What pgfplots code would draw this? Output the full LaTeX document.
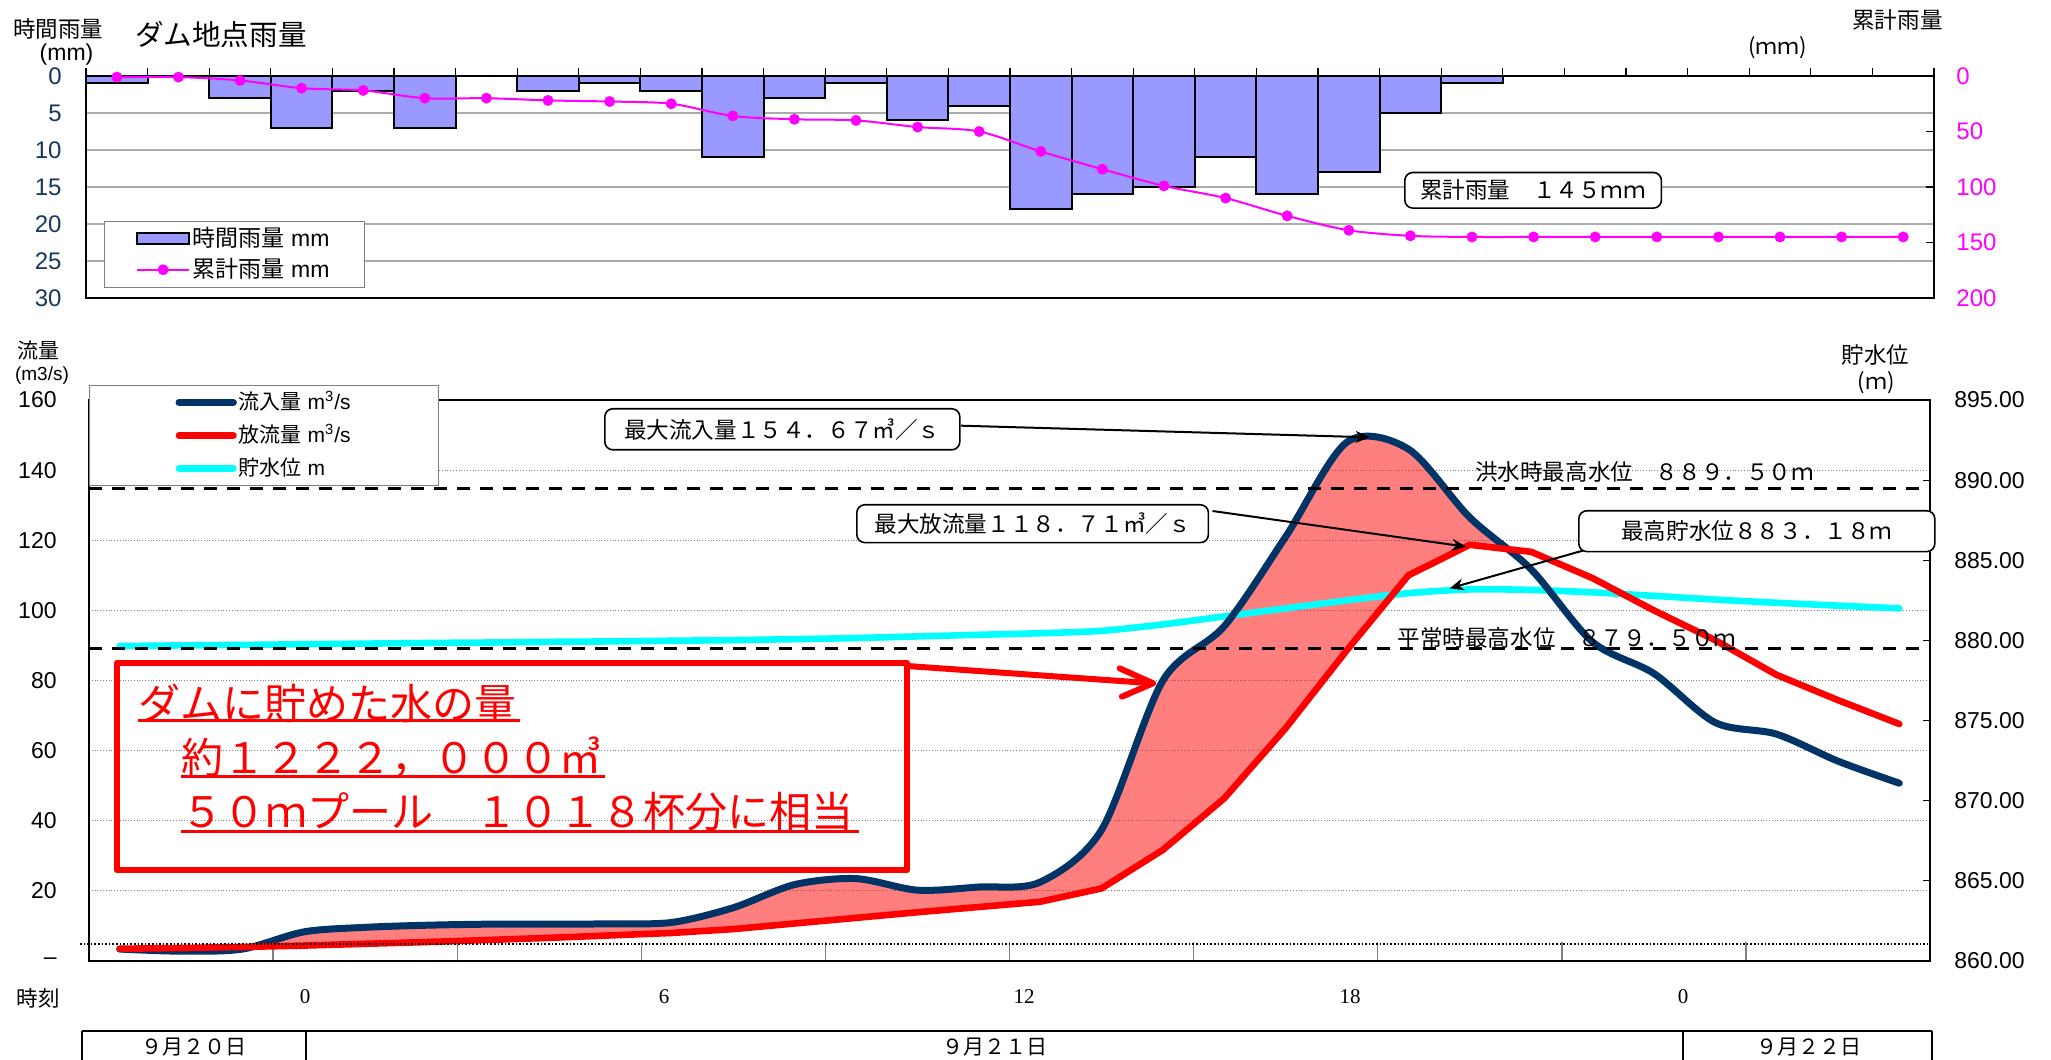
\documentclass[border=0pt]{standalone}
\usepackage{fontspec}
\setmainfont{Liberation Sans}
\newfontfamily\jp{Noto Sans CJK JP}
\newfontfamily\mincho{Liberation Serif}
\usepackage{pgfplots}
\usepackage{pgfplotstable}
\pgfplotsset{compat=1.18}
\usepgfplotslibrary{fillbetween}
\usetikzlibrary{arrows.meta}

\definecolor{barblue}{HTML}{9999FF}
\definecolor{tickblue}{HTML}{17375E}
\definecolor{inflowc}{HTML}{003366}
\definecolor{pinkline}{HTML}{FF00FF}
\definecolor{levelc}{HTML}{00FFFF}
\definecolor{outflowc}{HTML}{FF0000}

% hourly rain and cumulative rain (mm)
\pgfplotstableread{
i rain cum
0 1 1
1 0 1
2 3 4
3 7 11
4 2 13
5 7 20
6 0 20
7 2 22
8 1 23
9 2 25
10 11 36
11 3 39
12 1 40
13 6 46
14 4 50
15 18 68
16 16 84
17 15 99
18 11 110
19 16 126
20 13 139
21 5 144
22 1 145
23 0 145
24 0 145
25 0 145
26 0 145
27 0 145
28 0 145
29 0 145
}\raintable

% inflow, outflow (m3/s) and reservoir level (m)
\pgfplotstableread{
i inflow outflow level
0 3.4 3.5 879.65
1 2.8 3.7 879.69
2 3.4 4.0 879.72
3 8.3 4.4 879.76
4 9.6 4.9 879.80
5 10.2 5.4 879.84
6 10.5 6.0 879.87
7 10.5 6.6 879.91
8 10.6 7.3 879.94
9 11.0 8.0 879.98
10 15.2 9.1 880.02
11 21.8 10.7 880.08
12 23.5 12.3 880.15
13 20.2 13.9 880.25
14 21.1 15.4 880.35
15 22.5 16.9 880.45
16 37.4 20.7 880.60
17 80.0 31.7 881.00
18 95.5 46.4 881.50
19 121.0 66.4 882.00
20 148.0 88.7 882.50
21 146.0 110.0 882.95
22 126.5 118.7 883.18
23 111.7 116.7 883.15
24 91.0 109.2 883.00
25 82.0 100.0 882.78
26 68.0 91.5 882.55
27 64.7 81.6 882.35
28 57.0 74.4 882.17
29 50.7 67.6 882.00
}\damtable

\begin{document}
\begin{tikzpicture}

% ================= rainfall chart =================
\begin{axis}[
  at={(43pt,381pt)}, anchor=south west,
  width=924pt, height=111pt, scale only axis,
  xmin=-0.5, xmax=29.5, ymin=0, ymax=30, y dir=reverse,
  axis line style={line width=1.3pt},
  xtick=\empty,
  ytick={0,5,...,30}, ytick pos=left, ytick style={draw=none},
  yticklabel style={tickblue, font=\fontsize{12}{12}\selectfont, anchor=east, inner sep=0pt, xshift=-12pt},
  ymajorgrids, major grid style={gray!65, line width=0.8pt},
  /pgf/number format/assume math mode=true,
]
\addplot[ybar, bar width=1, bar shift=0pt, fill=barblue, draw=black, line width=1pt]
  table[x=i, y=rain] {\raintable};
\end{axis}

\begin{axis}[
  at={(43pt,381pt)}, anchor=south west,
  width=924pt, height=111pt, scale only axis,
  xmin=-0.5, xmax=29.5, ymin=0, ymax=200, y dir=reverse,
  axis x line=none, axis y line*=right, y axis line style={draw=none},
  ytick={0,50,...,200}, tick align=inside, major tick length=4pt,
  ytick style={black, line width=0.6pt},
  yticklabel style={pinkline, font=\fontsize{12}{12}\selectfont, anchor=west, inner sep=0pt, xshift=11pt},
  /pgf/number format/assume math mode=true,
  legend style={at={(0.0097,0.348)}, anchor=north west, draw=gray, line width=0.5pt,
    fill=white, inner xsep=16pt, inner ysep=2pt, font=\fontsize{11.5}{12}\selectfont,
    nodes={inner xsep=1.5pt, inner ysep=0pt, text height=10.5pt, text depth=3pt}, row sep=2pt},
  legend cell align=left,
  legend image code/.code={\draw[mark repeat=2,mark phase=2,#1] plot coordinates {(0pt,0pt) (12.85pt,0pt) (25.7pt,0pt)};},
]
\addlegendimage{legend image code/.code={\draw[fill=barblue,draw=black,line width=1pt] (0pt,-2.75pt) rectangle (25.7pt,2.75pt);}}
\addlegendentry{{\jp 時間雨量} mm}
\addplot[pinkline, line width=1pt, smooth, mark=*, mark size=2.2pt, mark options={fill=pinkline, draw=pinkline}]
  table[x=i, y=cum] {\raintable};
\addlegendentry{{\jp 累計雨量} mm}
\end{axis}

% ================= flow / level chart =================
\begin{axis}[
  at={(44.5pt,49.5pt)}, anchor=south west,
  width=920.5pt, height=280.5pt, scale only axis,
  xmin=-0.5, xmax=29.5, ymin=860, ymax=895,
  axis x line=none, axis y line*=right, y axis line style={draw=none},
  ytick={860,865,...,895}, tick align=inside, major tick length=3.3pt,
  ytick style={black, line width=0.6pt},
  /pgf/number format/assume math mode=true,
  yticklabel style={font=\fontsize{11.5}{12}\selectfont, anchor=west, inner sep=0pt, xshift=12pt,
    /pgf/number format/.cd, fixed, fixed zerofill, precision=2, 1000 sep={}},
]
\addplot[levelc, line width=3.3pt, smooth, line cap=round] table[x=i, y=level] {\damtable};
\end{axis}

\begin{axis}[
  at={(44.5pt,49.5pt)}, anchor=south west,
  width=920.5pt, height=280.5pt, scale only axis,
  xmin=-0.5, xmax=29.5, ymin=0, ymax=160,
  axis line style={line width=1.3pt},
  xtick={2.5,5.5,...,26.5}, xticklabels={}, xtick pos=left,
  tick align=inside, major tick length=9.5pt,
  xtick style={gray, line width=0.7pt},
  ytick={0,20,...,160}, ytick pos=left, ytick style={draw=none},
  yticklabel={\ifdim\tick pt<1pt \textendash\else\pgfmathprintnumber{\tick}\fi},
  yticklabel style={font=\fontsize{11.5}{12}\selectfont, anchor=east, inner sep=0pt, xshift=-16pt},
  /pgf/number format/assume math mode=true,
  ymajorgrids, major grid style={densely dotted, gray, line width=0.6pt},
  legend style={at={(0,1.0267)}, anchor=north west, draw=gray, line width=0.5pt,
    fill=white, inner xsep=43pt, inner ysep=2pt, font=\fontsize{10.5}{11}\selectfont,
    nodes={inner xsep=1pt, inner ysep=0pt, text height=10pt, text depth=3pt}, row sep=3.5pt},
  legend cell align=left,
  legend image code/.code={\draw[#1, line cap=round] (0pt,0pt) -- (27.2pt,0pt);},
]
\addplot[inflowc, line width=3.5pt, smooth, line cap=round, name path=inflowpath]
  table[x=i, y=inflow] {\damtable};
\addlegendentry{{\jp 流入量} m\textsuperscript{3}/s}
\addplot[outflowc, line width=3.3pt, line cap=round, line join=round, name path=outflowpath]
  table[x=i, y=outflow] {\damtable};
\addlegendentry{{\jp 放流量} m\textsuperscript{3}/s}
\addlegendimage{levelc, line width=3.3pt}
\addlegendentry{{\jp 貯水位} m}
\addplot[fill=outflowc, fill opacity=0.5, draw=none, forget plot]
  fill between[of=inflowpath and outflowpath, soft clip={domain=2.2:22.45}];
% flood and normal maximum levels (889.50 m, 879.50 m in flow units)
\draw[black, line width=1.5pt, dash pattern=on 6.5pt off 5pt] (axis cs:-0.5,134.857) -- (axis cs:29.5,134.857);
\draw[black, line width=1.5pt, dash pattern=on 6.5pt off 5pt] (axis cs:-0.5,89.143) -- (axis cs:29.5,89.143);
\end{axis}

% ================= annotations (pixel coordinates of the reference) =================
\begin{scope}[x=0.5pt, y=-0.5pt, shift={(0pt,530pt)}]
% hour ticks above the rainfall chart
\foreach \k in {0,...,30} \draw[black, line width=0.6pt] ({86+61.6*\k},76) -- ({86+61.6*\k},68.5);
\draw[black, line width=0.8pt, densely dotted] (80,944) -- (1930,944);
\tikzset{jpbox/.style={draw, line width=0.8pt, rounded corners=4pt, fill=white, inner sep=0pt,
  anchor=north west, font=\jp\fontsize{11.3}{12}\selectfont}}
\node[jpbox, minimum width=177.5pt, minimum height=20.5pt] at (604,408) {最大流入量１５４．６７㎥／ｓ};
\draw[line width=1pt, -{Stealth[length=7pt,width=6pt]}] (961,425.7) -- (1369.6,437.3);
\node[jpbox, minimum width=175.8pt, minimum height=18.9pt] at (856,504) {最大放流量１１８．７１㎥／ｓ};
\draw[line width=1pt, -{Stealth[length=7pt,width=6pt]}] (1212.5,511) -- (1466,546.7);
\node[jpbox, minimum width=178pt, minimum height=20.4pt] at (1578,510) {最高貯水位８８３．１８ｍ};
\draw[line width=1pt, -{Stealth[length=7pt,width=6pt]}] (1582.6,550.7) -- (1449.8,588.3);
\node[jpbox, minimum width=128.3pt, minimum height=17.8pt] at (1404,171.7) {累計雨量　１４５ｍｍ};

\node[anchor=west, inner sep=0pt, font=\jp\fontsize{11.3}{12}\selectfont] at (1474.7,471.7) {洪水時最高水位　８８９．５０ｍ};
\node[anchor=west, inner sep=0pt, font=\jp\fontsize{11.3}{12}\selectfont] at (1397,638) {平常時最高水位　８７９．５０ｍ};

% red message box
\draw[outflowc, line width=3.3pt, line join=round] (117,663) rectangle (907,870);
\draw[outflowc, line width=3pt, line cap=round] (907,666) -- (1153,683.3);
\draw[outflowc, line width=3pt, line cap=round, line join=round] (1119.6,668.3) -- (1153,683.3) -- (1121.9,696.7);
\begin{scope}[every node/.style={anchor=west, inner sep=0pt, text=outflowc, font=\jp\fontsize{21}{22}\selectfont}]
\node at (138,703) {ダムに貯めた水の量};
\node at (181,757) {約１２２２，０００㎥};
\node at (181,812) {５０ｍプール　１０１８杯分に相当};
\end{scope}
\draw[outflowc, line width=1.5pt] (138,721) -- (520,721);
\draw[outflowc, line width=1.5pt] (181,777) -- (605,777);
\draw[outflowc, line width=1.5pt] (181,832) -- (858.5,832);

% axis titles
\node[font=\jp\fontsize{11.25}{12}\selectfont] at (58,29.3) {時間雨量};
\node[font=\fontsize{11.5}{12}\selectfont] at (66.5,55) {(mm)};
\node[anchor=west, font=\jp\fontsize{14.3}{15}\selectfont] at (128,35) {ダム地点雨量};
\node[font=\jp\fontsize{11.3}{12}\selectfont] at (1897.5,20) {累計雨量};
\node[font=\jp\fontsize{11}{12}\selectfont] at (1777.5,48) {(ｍｍ)};
\node[font=\jp\fontsize{10.5}{12}\selectfont] at (39,350.7) {流量};
\node[font=\fontsize{9.5}{11}\selectfont] at (42,376) {(m3/s)};
\node[font=\jp\fontsize{11.2}{12}\selectfont] at (1875.5,355) {貯水位};
\node[font=\jp\fontsize{11}{12}\selectfont] at (1876,383) {(ｍ)};
\node[font=\jp\fontsize{10.75}{12}\selectfont] at (38.5,998) {時刻};

% hour labels
\begin{scope}[every node/.style={font=\mincho\fontsize{10.5}{12}\selectfont}]
\node at (305,997) {0};
\node at (664,997) {6};
\node at (1024,997) {12};
\node at (1350,997) {18};
\node at (1683,997) {0};
\end{scope}

% date table
\draw[line width=1.25pt] (82,1031) -- (1932,1031);
\foreach \xx in {82,306,1683,1932} \draw[line width=1.25pt] (\xx,1031) -- (\xx,1062);
\begin{scope}[every node/.style={font=\jp\fontsize{10.5}{12}\selectfont}]
\node at (194,1047) {９月２０日};
\node at (994.6,1047) {９月２１日};
\node at (1808.7,1047) {９月２２日};
\end{scope}
\end{scope}

\pgfresetboundingbox
\path[use as bounding box] (0pt,0pt) rectangle (1025.5pt,530pt);
\end{tikzpicture}
\end{document}
